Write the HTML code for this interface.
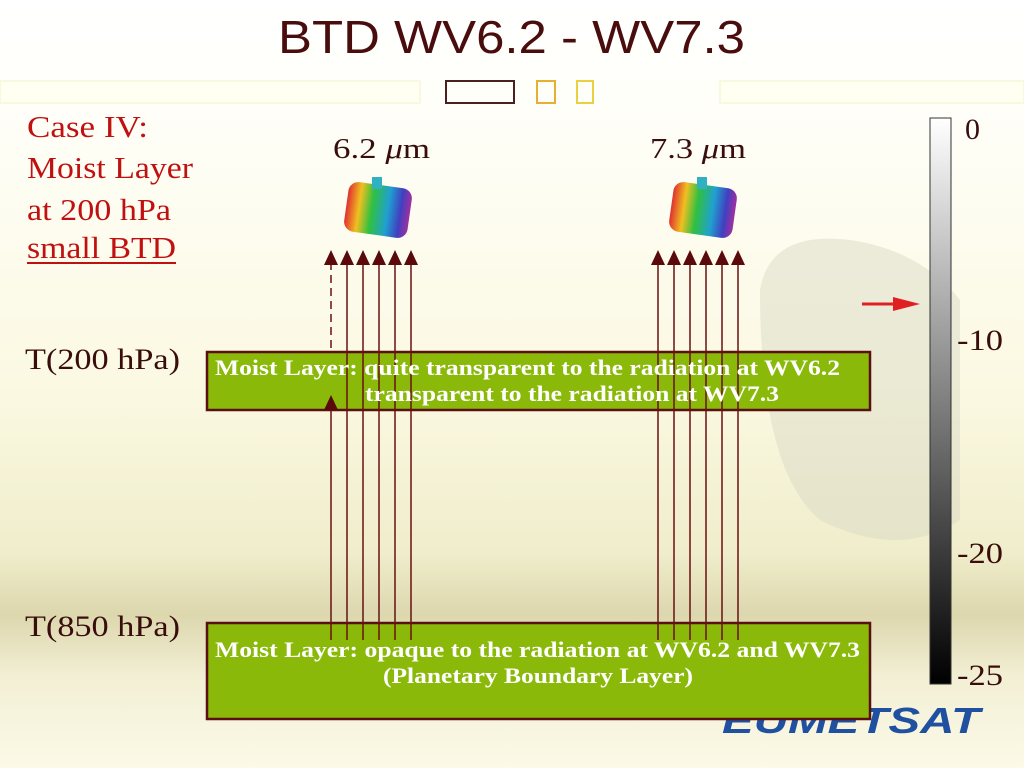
<!DOCTYPE html>
<html><head><meta charset="utf-8"><style>
body{margin:0;width:1024px;height:768px;overflow:hidden}
</style></head><body>
<svg width="1024" height="768" xmlns="http://www.w3.org/2000/svg">
<defs>
<linearGradient id="bg" x1="0" y1="0" x2="0" y2="1">
<stop offset="0" stop-color="#ffffff"/>
<stop offset="0.12" stop-color="#fffffa"/>
<stop offset="0.5" stop-color="#fbf9e2"/>
<stop offset="0.72" stop-color="#f0edcc"/>
<stop offset="0.8" stop-color="#dcd7ad"/>
<stop offset="0.88" stop-color="#f2efd4"/>
<stop offset="1" stop-color="#fbfae8"/>
</linearGradient>
<linearGradient id="cb" x1="0" y1="0" x2="0" y2="1">
<stop offset="0" stop-color="#ffffff"/>
<stop offset="1" stop-color="#000000"/>
</linearGradient>
<linearGradient id="sat" x1="0" y1="0" x2="1" y2="0">
<stop offset="0" stop-color="#e03030"/>
<stop offset="0.2" stop-color="#f0c020"/>
<stop offset="0.4" stop-color="#30c040"/>
<stop offset="0.65" stop-color="#20a0d0"/>
<stop offset="0.85" stop-color="#4040c0"/>
<stop offset="1" stop-color="#a030a0"/>
</linearGradient>
</defs>
<rect width="1024" height="768" fill="url(#bg)"/>
<path d="M760,290 Q770,230 850,240 Q920,250 960,300 L960,520 Q900,560 820,520 Q760,470 760,290Z" fill="#d8d6c4" opacity="0.45"/>
<text x="278" y="53" textLength="467" lengthAdjust="spacingAndGlyphs" font-family="Liberation Sans, sans-serif" font-size="46" fill="#4a0d0d">BTD WV6.2 - WV7.3</text>
<rect x="0" y="81" width="420" height="22" fill="#fffff2" stroke="#f4f0c8"/>
<rect x="720" y="81" width="304" height="22" fill="#fffff2" stroke="#f4f0c8"/>
<rect x="446" y="81" width="68" height="22" fill="none" stroke="#4a2020" stroke-width="2"/>
<rect x="537" y="81" width="18" height="22" fill="none" stroke="#e8b030" stroke-width="2"/>
<rect x="577" y="81" width="16" height="22" fill="none" stroke="#e8d040" stroke-width="2"/>
<g font-family="Liberation Serif, serif" font-size="31" fill="#c01010">
<text x="27" y="137" textLength="121" lengthAdjust="spacingAndGlyphs">Case IV:</text>
<text x="27" y="178" textLength="166" lengthAdjust="spacingAndGlyphs">Moist Layer</text>
<text x="27" y="220" textLength="144" lengthAdjust="spacingAndGlyphs">at 200 hPa</text>
<text x="27" y="258" textLength="149" lengthAdjust="spacingAndGlyphs">small BTD</text>
</g>
<rect x="27" y="262" width="149" height="2" fill="#c01010"/>
<g font-family="Liberation Serif, serif" font-size="30" fill="#3a0d0d">
<text x="25" y="369" textLength="155" lengthAdjust="spacingAndGlyphs">T(200 hPa)</text>
<text x="25" y="636" textLength="155" lengthAdjust="spacingAndGlyphs">T(850 hPa)</text>
</g>
<g font-family="Liberation Serif, serif" font-size="28" fill="#3a0d0d">
<text x="333" y="158" textLength="97" lengthAdjust="spacingAndGlyphs">6.2 <tspan font-style="italic">μ</tspan>m</text>
<text x="650" y="158" textLength="96" lengthAdjust="spacingAndGlyphs">7.3 <tspan font-style="italic">μ</tspan>m</text>
</g>
<g>
<rect x="346" y="185" width="64" height="50" rx="10" fill="url(#sat)" transform="rotate(8 378 210)"/>
<rect x="372" y="177" width="10" height="12" fill="#30b0c0"/>
<rect x="671" y="185" width="64" height="50" rx="10" fill="url(#sat)" transform="rotate(8 703 210)"/>
<rect x="697" y="177" width="10" height="12" fill="#30b0c0"/>
</g>
<text x="722" y="733" textLength="258" lengthAdjust="spacingAndGlyphs" font-family="Liberation Sans, sans-serif" font-size="36" font-weight="bold" font-style="italic" fill="#2050a0">EUMETSAT</text>
<rect x="930" y="118" width="21" height="566" fill="url(#cb)" stroke="#333" stroke-width="1"/>
<g font-family="Liberation Serif, serif" font-size="30" fill="#3a0d0d">
<text x="965" y="139">0</text>
<text x="957" y="350" textLength="46" lengthAdjust="spacingAndGlyphs">-10</text>
<text x="957" y="563" textLength="46" lengthAdjust="spacingAndGlyphs">-20</text>
<text x="957" y="685" textLength="46" lengthAdjust="spacingAndGlyphs">-25</text>
</g>
<line x1="862" y1="304" x2="895" y2="304" stroke="#e02020" stroke-width="3"/>
<polygon points="893,297 920,304 893,311" fill="#e02020"/>
<rect x="207" y="352" width="663" height="58" fill="#8ab90a" stroke="#5a1010" stroke-width="2.5"/>
<rect x="207" y="623" width="663" height="96" fill="#8ab90a" stroke="#5a1010" stroke-width="2.5"/>
<g stroke="#6a1010" stroke-width="1.5">
<line x1="331" y1="262" x2="331" y2="352" stroke-dasharray="8,5"/>
<line x1="331" y1="408" x2="331" y2="640"/>
<line x1="347" y1="262" x2="347" y2="640"/>
<line x1="363" y1="262" x2="363" y2="640"/>
<line x1="379" y1="262" x2="379" y2="640"/>
<line x1="395" y1="262" x2="395" y2="640"/>
<line x1="411" y1="262" x2="411" y2="640"/>
<line x1="658" y1="262" x2="658" y2="640"/>
<line x1="674" y1="262" x2="674" y2="640"/>
<line x1="690" y1="262" x2="690" y2="640"/>
<line x1="706" y1="262" x2="706" y2="640"/>
<line x1="722" y1="262" x2="722" y2="640"/>
<line x1="738" y1="262" x2="738" y2="640"/>
</g>
<g fill="#5a0a0a">
<polygon points="324,265 331,250 338,265"/>
<polygon points="340,265 347,250 354,265"/>
<polygon points="356,265 363,250 370,265"/>
<polygon points="372,265 379,250 386,265"/>
<polygon points="388,265 395,250 402,265"/>
<polygon points="404,265 411,250 418,265"/>
<polygon points="651,265 658,250 665,265"/>
<polygon points="667,265 674,250 681,265"/>
<polygon points="683,265 690,250 697,265"/>
<polygon points="699,265 706,250 713,265"/>
<polygon points="715,265 722,250 729,265"/>
<polygon points="731,265 738,250 745,265"/>
<polygon points="324,410 331,395 338,410"/>
</g>
<g font-family="Liberation Serif, serif" font-size="22" font-weight="bold" fill="#ffffff">
<text x="215" y="375" textLength="625" lengthAdjust="spacingAndGlyphs">Moist Layer: quite transparent to the radiation at WV6.2</text>
<text x="365" y="401" textLength="414" lengthAdjust="spacingAndGlyphs">transparent to the radiation at WV7.3</text>
<text x="215" y="657" textLength="645" lengthAdjust="spacingAndGlyphs">Moist Layer: opaque to the radiation at WV6.2 and WV7.3</text>
<text x="383" y="683" textLength="310" lengthAdjust="spacingAndGlyphs">(Planetary Boundary Layer)</text>
</g>
</svg>
</body></html>
